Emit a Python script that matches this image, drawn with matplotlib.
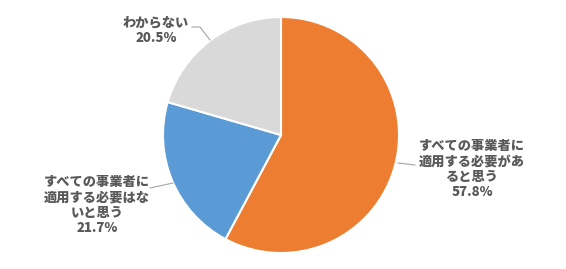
import matplotlib.pyplot as plt

plt.rcParams['font.family'] = ['Noto Sans CJK JP', 'DejaVu Sans']

labels = ['すべての事業者に\n適用する必要があ\nると思う',
          'すべての事業者に\n適用する必要はな\nいと思う',
          'わからない']
values = [57.8, 21.7, 20.5]
colors = ['#ED7D31', '#5B9BD5', '#D9D9D9']

# label centre positions (pixels, y up) and leader line points
label_pos = [(472, 100), (97, 64), (156, 239)]
leaders = [[(398, 106), (415, 104)],
           [(173, 86), (150, 81)],
           [(210, 229), (200, 242), (192, 242)]]

fig = plt.figure(figsize=(5.66, 2.69), dpi=100)
ax = fig.add_axes([0, 0, 1, 1])

ax.pie(values, colors=colors, startangle=90, counterclock=False,
       center=(281, 134), radius=118,
       wedgeprops=dict(edgecolor='white', linewidth=1.5))

for pts in leaders:
    ax.plot([p[0] for p in pts], [p[1] for p in pts], color='#A6A6A6', lw=0.8)

for lab, v, (x, y) in zip(labels, values, label_pos):
    ax.text(x, y, f'{lab}\n{v:.1f}%', ha='center', va='center',
            fontsize=9.5, fontweight='heavy', color='#595959', linespacing=1.15)

ax.set_xlim(0, 566)
ax.set_ylim(0, 269)
ax.set_aspect('equal')
ax.axis('off')

fig.savefig('out.png', dpi=100)
